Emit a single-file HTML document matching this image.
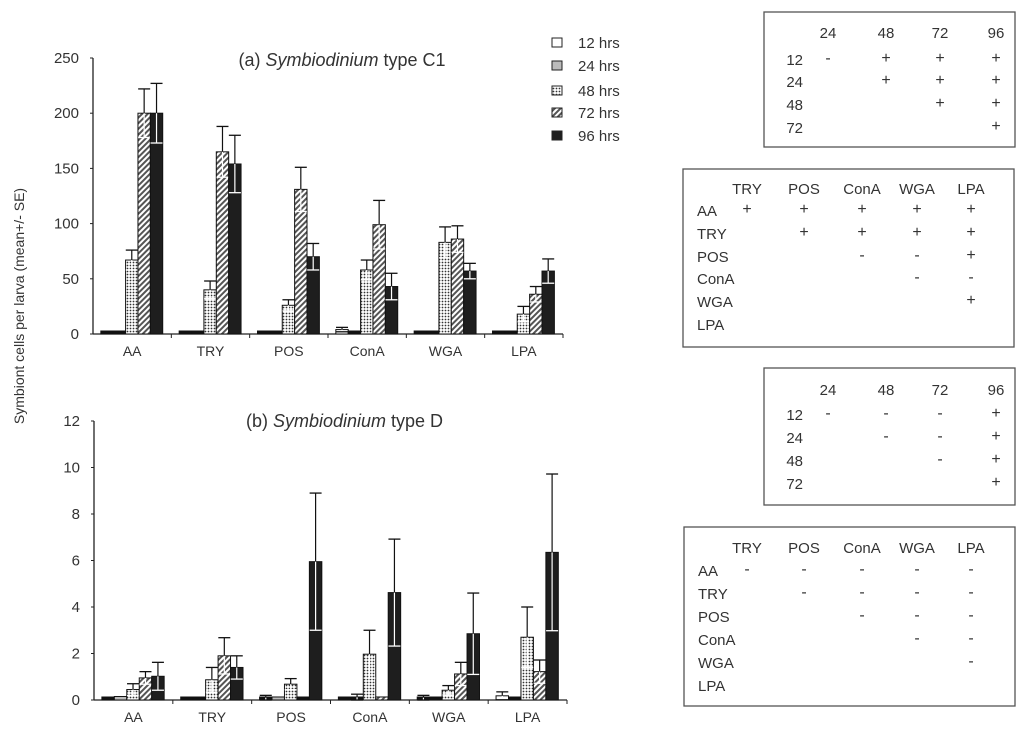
<!DOCTYPE html>
<html><head><meta charset="utf-8">
<style>
body{margin:0;background:#fff;width:1024px;height:735px;overflow:hidden;font-family:"Liberation Sans",sans-serif;}
svg text{font-family:"Liberation Sans",sans-serif;fill:#333;}
</style></head>
<body>
<svg id="fig" width="1024" height="735" viewBox="0 0 1024 735" xmlns="http://www.w3.org/2000/svg">
<defs>
<pattern id="dots" width="3" height="3" patternUnits="userSpaceOnUse"><rect width="3" height="3" fill="#fff"/><circle cx="1.5" cy="1.5" r="0.9" fill="#333"/></pattern>
<pattern id="hatch" width="4" height="4" patternUnits="userSpaceOnUse" patternTransform="rotate(45)"><rect width="4" height="4" fill="#fff"/><rect width="2" height="4" fill="#555"/></pattern>
</defs>
</svg>
<script>
const categories=["AA","TRY","POS","ConA","WGA","LPA"];
const seriesNames=["12 hrs","24 hrs","48 hrs","72 hrs","96 hrs"];
const c1_12=[1.5,2,2,4,1,1];
const c1_24=[1.5,1,0,1,0,2];
const c1_48=[67,40,26,58,83,18];
const c1_72=[200,165,131,99,86,36];
const c1_96=[200,154,70,43,57,57];
const c1_se12=[0,0,0,2,0,0];
const c1_se24=[0,0,0,0,0,0];
const c1_se48=[9,8,5,9,14,7];
const c1_se72=[22,23,20,22,12,7];
const c1_se96=[27,26,12,12,7,11];
const d_12=[0.03,0.02,0.1,0.1,0.1,0.18];
const d_24=[0.15,0.08,0.13,0.12,0.02,0.03];
const d_48=[0.45,0.87,0.68,1.97,0.42,2.7];
const d_72=[0.95,1.9,0.1,0.13,1.12,1.22];
const d_96=[1.02,1.4,5.95,4.62,2.85,6.35];
const d_se12=[0,0,0.1,0,0.1,0.17];
const d_se24=[0,0,0,0.13,0,0];
const d_se48=[0.25,0.53,0.24,1.03,0.2,1.3];
const d_se72=[0.27,0.78,0,0,0.5,0.5];
const d_se96=[0.6,0.5,2.95,2.3,1.75,3.37];
const ticksA=[0,50,100,150,200,250];
const ticksB=[0,2,4,6,8,10,12];

const NS="http://www.w3.org/2000/svg";
const svg=document.getElementById('fig');
function mk(tag,attrs,parent){const e=document.createElementNS(NS,tag);for(const k in attrs)e.setAttribute(k,attrs[k]);(parent||svg).appendChild(e);return e;}
const fills=["#fff","#bbb","url(#dots)","url(#hatch)","#1e1e1e"];

function panel(name,x0,x1,y0,yTop,maxV,ticks,vals,ses,title){
  const g=mk('g',{});
  
  
  const yS=v=>y0-(v/maxV)*(y0-yTop);
  const gw=(x1-x0)/categories.length;
  const bw=gw*0.158, off=gw*0.1;
  const xS=(ci,si)=>x0+ci*gw+off+si*bw;
  const ya=mk('line',{x1:x0,y1:yTop,x2:x0,y2:y0,stroke:'#222','stroke-width':1.3},g);
  
  const xa=mk('line',{x1:x0,y1:y0,x2:x1,y2:y0,stroke:'#222','stroke-width':1.3},g);
  
  ticks.forEach(t=>{
    mk('line',{x1:x0-3,y1:yS(t),x2:x0,y2:yS(t),stroke:'#222'},g);
    const tl=mk('text',{x:x0-14,y:yS(t)+5,'text-anchor':'end','font-size':15},g);
    tl.textContent=t;
    
  });
  categories.forEach((c,ci)=>{
    mk('line',{x1:x0+(ci+1)*gw,y1:y0,x2:x0+(ci+1)*gw,y2:y0+4,stroke:'#222'},g);
    const cl=mk('text',{x:x0+(ci+0.5)*gw,y:y0+22,'text-anchor':'middle','font-size':14},g);
    cl.textContent=c;
    
    vals.forEach((sv,si)=>{
      const v=sv[ci],e=ses[si][ci];
      const x=xS(ci,si),yt=yS(v);
      const h=y0-yt;
      const r=mk('rect',{x:x,y:h<3?y0-3:yt,width:bw,height:Math.max(h,3),fill:h<3?'#111':fills[si],stroke:'#111','stroke-width':1},g);
      
      
      if(e>0){
        const cx=x+bw/2,yu=yS(v+e),yl=yS(Math.max(v-e,0));
        mk('line',{x1:cx,y1:yu,x2:cx,y2:yt,stroke:'#111','stroke-width':1.2},g);
        mk('line',{x1:cx,y1:yt,x2:cx,y2:yl,stroke:'#fff','stroke-width':1.2},g);
        mk('line',{x1:cx-6,y1:yu,x2:cx+6,y2:yu,stroke:'#111','stroke-width':1.3},g);
        mk('line',{x1:cx-6,y1:yl,x2:cx+6,y2:yl,stroke:si>=2?'#fff':'#111','stroke-width':1.3},g);
      }
    });
  });
  const tt=mk('text',{x:(x0+x1)/2+14,y:title.y,'text-anchor':'middle','font-size':18},g);
  
  const a=document.createElementNS(NS,'tspan');a.textContent=title.pre+' ';tt.appendChild(a);
  const b=document.createElementNS(NS,'tspan');b.setAttribute('font-style','italic');b.textContent='Symbiodinium';tt.appendChild(b);
  const cc=document.createElementNS(NS,'tspan');cc.textContent=' '+title.post;tt.appendChild(cc);
}
panel('panel-a-chart',93,563,334,58,250,ticksA,[c1_12,c1_24,c1_48,c1_72,c1_96],[c1_se12,c1_se24,c1_se48,c1_se72,c1_se96],{y:66,pre:'(a)',post:'type C1'});
panel('panel-b-chart',94,567,700,421,12,ticksB,[d_12,d_24,d_48,d_72,d_96],[d_se12,d_se24,d_se48,d_se72,d_se96],{y:427,pre:'(b)',post:'type D'});

const yt=mk('text',{x:0,y:0,'text-anchor':'middle','font-size':14,transform:'translate(24,306) rotate(-90)'});
yt.textContent='Symbiont cells per larva (mean+/- SE)';


const lg=mk('g',{});

const legY=[43,66,91,113,136];
seriesNames.forEach((s,i)=>{
  mk('rect',{x:552,y:legY[i]-5,width:10,height:9,fill:fills[i],stroke:'#222'},lg);
  const t=mk('text',{x:578,y:legY[i]+5,'font-size':15},lg);
  t.textContent=s;
  
});

function table(name,bx,by,bw,bh,cols,colX,headY,rowLabels,rowX,rowY,cells,anchor){
  const g=mk('g',{});
  
  mk('rect',{x:bx,y:by,width:bw,height:bh,fill:'#fff',stroke:'#555','stroke-width':1.3},g);
  cols.forEach((c,i)=>{const t=mk('text',{x:colX[i],y:headY,'text-anchor':'middle','font-size':15},g);t.textContent=c;});
  rowLabels.forEach((r,i)=>{
    const t=mk('text',{x:rowX,y:rowY[i],'text-anchor':anchor,'font-size':15},g);t.textContent=r;
    (cells[i]||'').split('').forEach((ch,j)=>{
      if(ch===' '||j>=colX.length)return;
      const s=mk('text',{x:colX[j],y:rowY[i]-2,'text-anchor':'middle','font-size':16},g);s.textContent=ch;
    });
  });
}
const hx=[828,886,940,996];
table('time-table-a',764,12,251,135,["24","48","72","96"],hx,38,["12","24","48","72"],803,[65,87,110,133],["-+++"," +++","  ++","   +"],'end');
const lx=[747,804,862,917,971];
table('lectin-table-a',683,169,331,178,["TRY","POS","ConA","WGA","LPA"],lx,194,["AA","TRY","POS","ConA","WGA","LPA"],697,[216,239,262,284,307,330],["+++++"," ++++","  --+","   --","    +",""],'start');
table('time-table-b',764,368,251,137,["24","48","72","96"],hx,395,["12","24","48","72"],803,[420,443,466,489],["---+"," --+","  -+","   +"],'end');
table('lectin-table-b',684,527,331,179,["TRY","POS","ConA","WGA","LPA"],lx,553,["AA","TRY","POS","ConA","WGA","LPA"],698,[576,599,622,645,668,691],["-----"," ----","  ---","   --","    -",""],'start');
</script>
</body></html>
